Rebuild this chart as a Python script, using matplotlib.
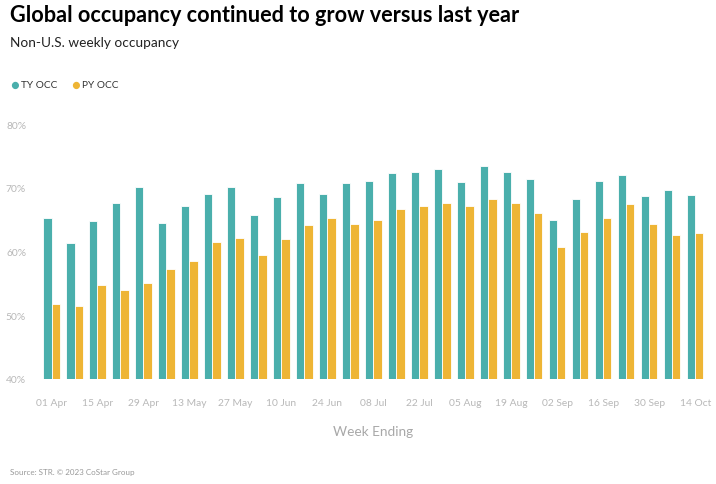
import numpy as np
import matplotlib.pyplot as plt

plt.rcParams['font.family'] = ['Lato', 'DejaVu Sans']

weeks = ["01 Apr", "08 Apr", "15 Apr", "22 Apr", "29 Apr", "06 May", "13 May", "20 May",
         "27 May", "03 Jun", "10 Jun", "17 Jun", "24 Jun", "01 Jul", "08 Jul", "15 Jul",
         "22 Jul", "29 Jul", "05 Aug", "12 Aug", "19 Aug", "26 Aug", "02 Sep", "09 Sep",
         "16 Sep", "23 Sep", "30 Sep", "07 Oct", "14 Oct"]

ty_occ = [65.2, 61.3, 64.8, 67.6, 70.1, 64.5, 67.1, 69.0, 70.2, 65.7, 68.6, 70.8, 69.0, 70.7,
          71.0, 72.4, 72.5, 72.9, 70.9, 73.4, 72.5, 71.4, 64.9, 68.3, 71.0, 72.0, 68.7, 69.6, 68.9]
py_occ = [51.8, 51.4, 54.7, 53.9, 55.1, 57.3, 58.5, 61.5, 62.2, 59.4, 61.9, 64.1, 65.2, 64.4,
          64.9, 66.7, 67.2, 67.7, 67.1, 68.2, 67.7, 66.0, 60.7, 63.0, 65.2, 67.5, 64.4, 62.6, 62.9]

teal = '#4aafac'
gold = '#eeb535'
grey = '#b8b8b8'

fig = plt.figure(figsize=(7.16, 4.85), dpi=100)
ax = fig.add_axes([0.0559, 0.2165, 0.931, 0.5255])

x = np.arange(len(weeks))
w = 0.36
ax.bar(x - w / 2, ty_occ, width=w, color=teal, edgecolor='white', linewidth=0.6)
ax.bar(x + w / 2, py_occ, width=w, color=gold, edgecolor='white', linewidth=0.6)

ax.set_xlim(-0.5, len(weeks) - 0.5)
ax.set_ylim(40, 80)
ax.set_yticks([40, 50, 60, 70, 80])
ax.set_yticklabels([f"{v}%" for v in [40, 50, 60, 70, 80]])
ax.set_xticks(x[::2])
ax.set_xticklabels(weeks[::2])
ax.tick_params(axis='both', length=0, labelsize=7.4, colors=grey)
ax.tick_params(axis='x', pad=14)
ax.tick_params(axis='y', pad=10)
for s in ax.spines.values():
    s.set_visible(False)
ax.set_xlabel("Week Ending", fontsize=9.8, color='#a8a8a8', labelpad=13)

fig.text(0.014, 0.955, "Global occupancy continued to grow versus last year",
         fontsize=15.6, fontweight='bold', color='black', va='baseline')
fig.text(0.014, 0.903, "Non-U.S. weekly occupancy", fontsize=9.8, color='#222222', va='baseline')

# legend
fig.text(0.020, 0.823, "\u25cf", color=teal, fontsize=10.5, va='center', ha='center')
fig.text(0.030, 0.823, "TY OCC", color='#333333', fontsize=7.3, va='center')
fig.text(0.105, 0.823, "\u25cf", color=gold, fontsize=10.5, va='center', ha='center')
fig.text(0.114, 0.823, "PY OCC", color='#333333', fontsize=7.3, va='center')

fig.text(0.014, 0.02, "Source: STR. \u00a9 2023 CoStar Group", fontsize=5.8, color='#999999')

fig.savefig("out.png", dpi=100)
